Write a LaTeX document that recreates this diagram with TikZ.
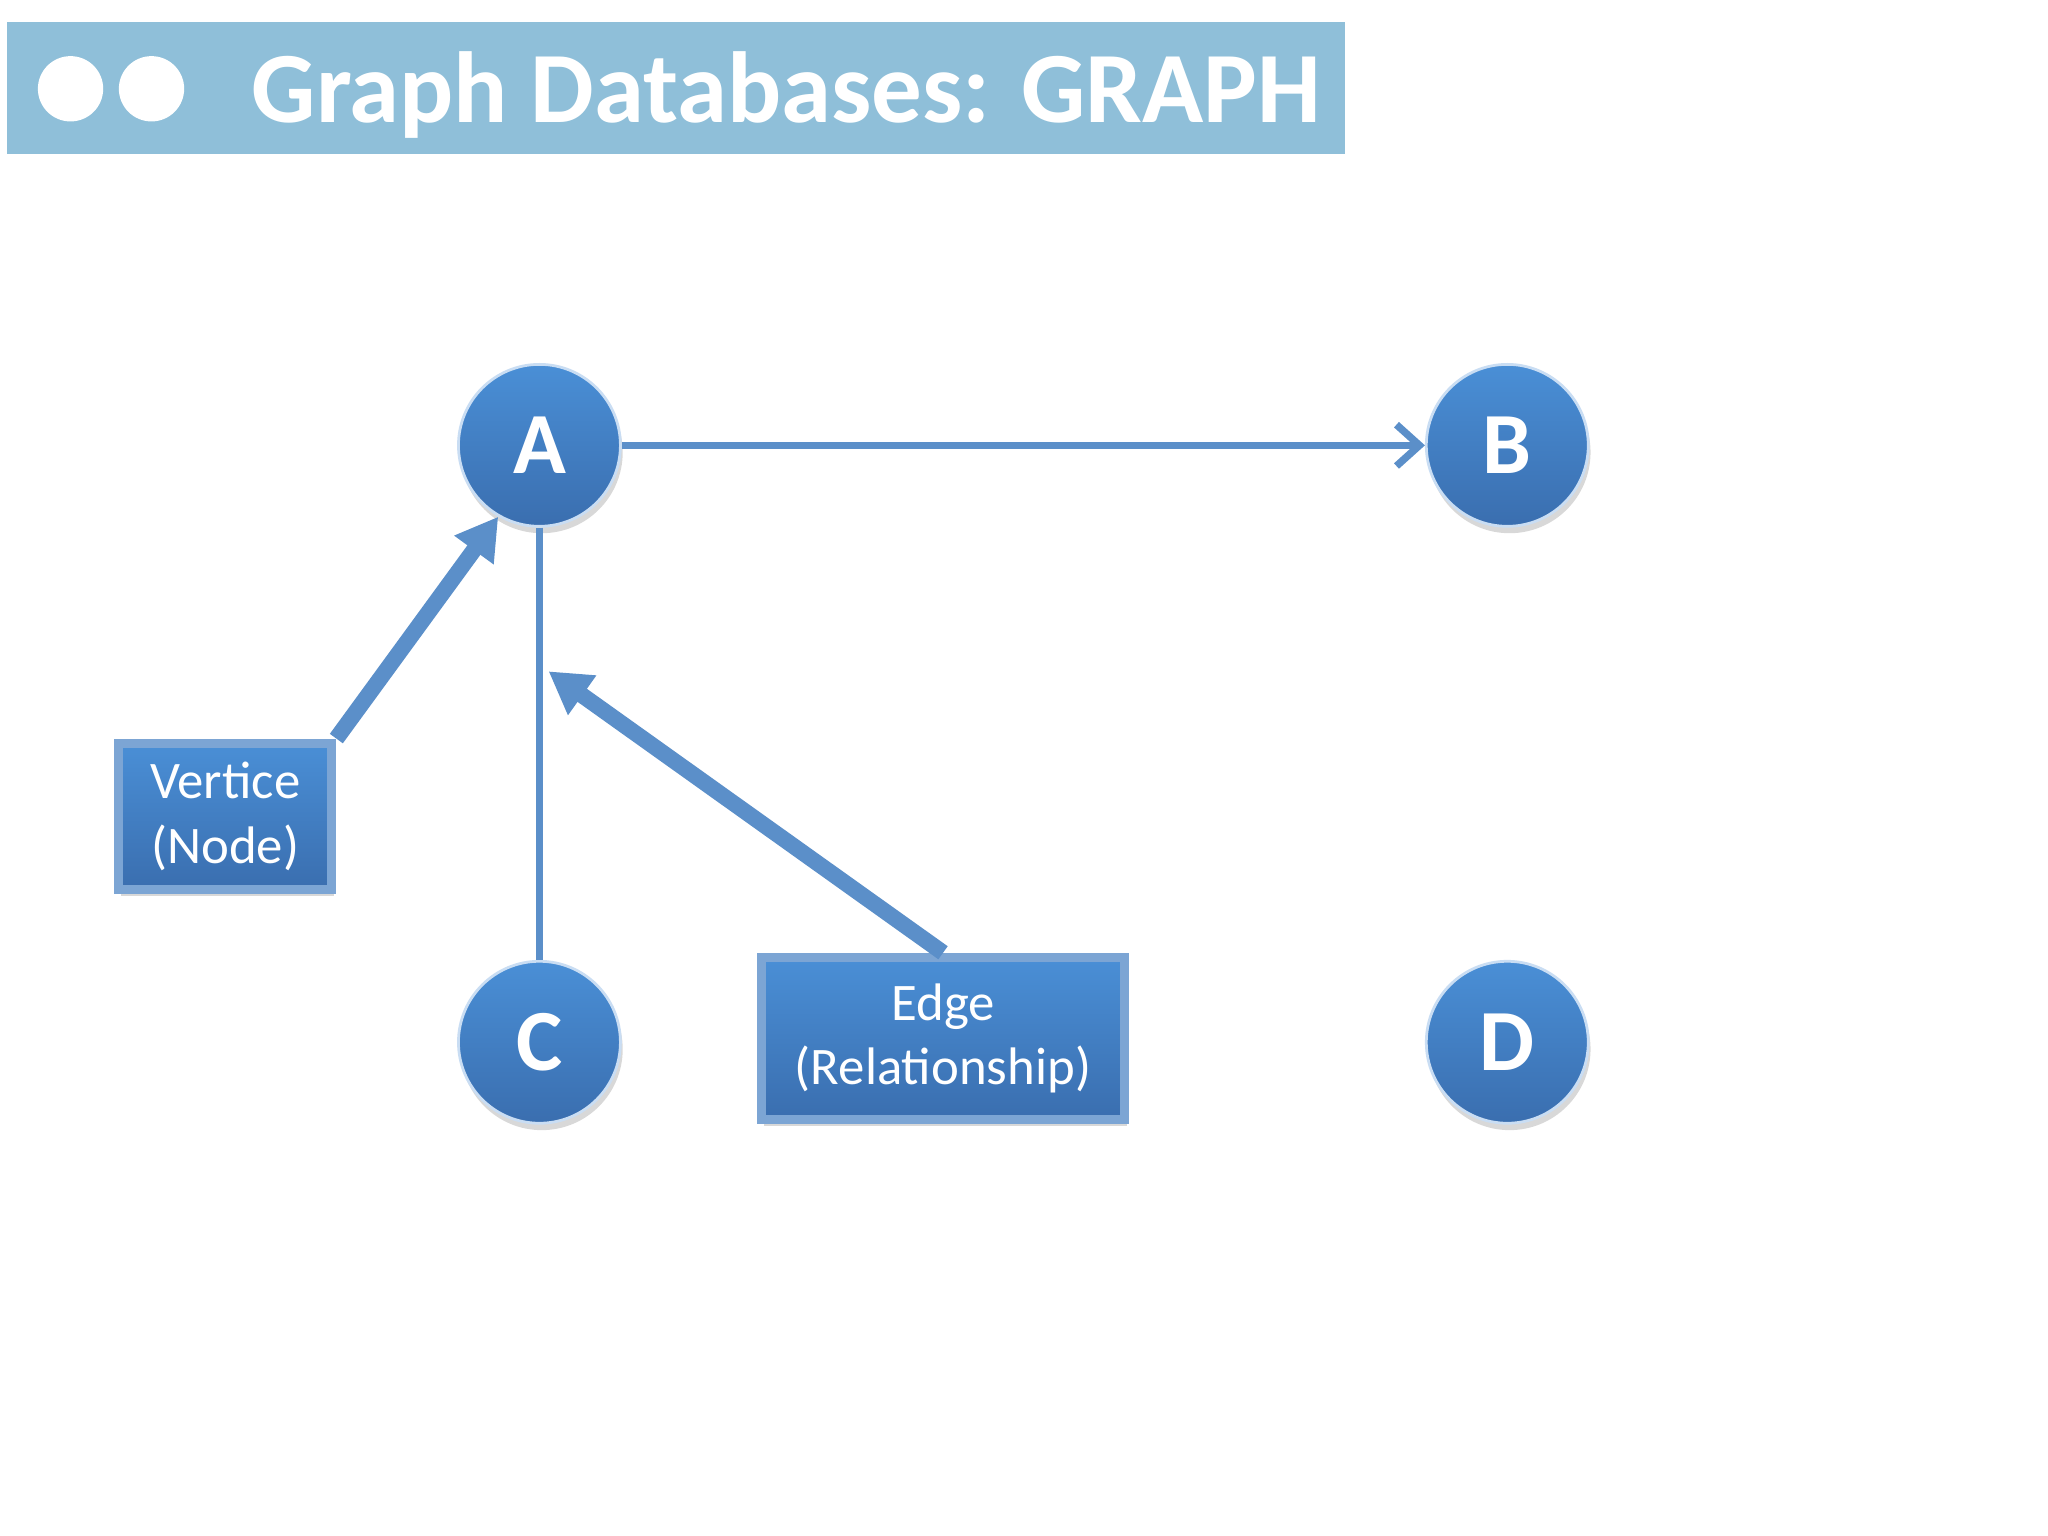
\documentclass[tikz,border=0pt]{standalone}
\usepackage{fontspec}
\setmainfont{Carlito}
\usetikzlibrary{arrows.meta,shadows}
\definecolor{bar}{HTML}{8FBFD9}
\definecolor{nodetop}{HTML}{4A8FD6}
\definecolor{nodebot}{HTML}{3A6EAF}
\definecolor{edgec}{HTML}{5B8FC9}
\tikzset{
 vert/.style={circle,minimum size=1.24cm,inner sep=0pt,top color=nodetop,bottom color=nodebot,draw=white!70!nodetop,line width=0.6pt,text=white,font=\fontsize{19}{19}\selectfont\bfseries,drop shadow={opacity=0.3,shadow xshift=0.5pt,shadow yshift=-1.5pt}},
 lbox/.style={rectangle,top color=nodetop,bottom color=nodebot,draw=edgec!80!white,line width=2pt,text=white,align=center,font=\fontsize{11.5}{14}\selectfont,drop shadow={opacity=0.3,shadow xshift=0.5pt,shadow yshift=-1.5pt}},
 conn/.style={edgec,line width=1.6pt},
 fat/.style={edgec,line width=3.5pt,-{Triangle[length=9pt,width=10pt]}}
}
\begin{document}
\begin{tikzpicture}
\useasboundingbox (0,0) rectangle (15.68,11.76);
\fill[white] (0,0) rectangle (15.68,11.76);
\fill[bar] (0.05,10.58) rectangle (10.30,11.59);
\fill[white] (0.54,11.08) circle (0.25) (1.16,11.08) circle (0.25);
\node[anchor=west,text=white,font=\fontsize{22}{22}\selectfont\bfseries,inner sep=0pt] (title) at (1.92,11.03) {Graph Databases: GRAPH};
\node[vert] (A) at (4.13,8.35) {A};
\node[vert] (B) at (11.54,8.35) {B};
\node[vert] (C) at (4.13,3.78) {C};
\node[vert] (D) at (11.54,3.78) {D};
\node[lbox,minimum width=1.63cm,minimum height=1.12cm] (V) at (1.725,5.51) {Vertice\\(Node)};
\node[lbox,minimum width=2.78cm,minimum height=1.24cm] (E) at (7.22,3.81) {Edge\\(Relationship)};
\draw[conn,-{Straight Barb[length=5pt,width=9pt]}] (A) -- (B);
\draw[conn] (A) -- (C);
\draw[fat] (V.north east) -- (A.-120);
\draw[fat] (E.north) -- (4.20,6.62);
\end{tikzpicture}
\end{document}
